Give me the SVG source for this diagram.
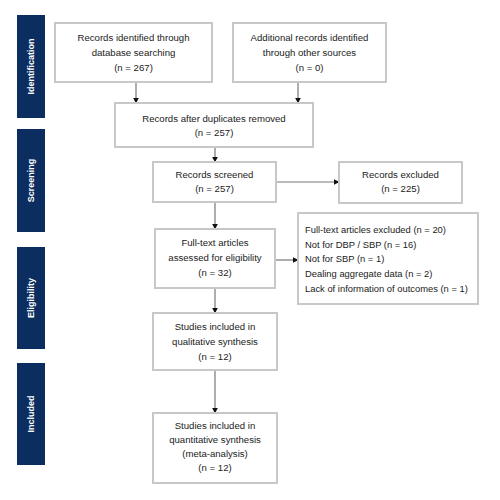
<svg xmlns="http://www.w3.org/2000/svg" width="500" height="500" viewBox="0 0 500 500">
<style>
.box{fill:#fff;stroke:#c8c8c8;stroke-width:2}
.bar{fill:#0b2d5f}
.t{font-family:"Liberation Sans",Arial,sans-serif;font-size:9.6px;fill:#222;text-anchor:middle}
.tl{font-family:"Liberation Sans",Arial,sans-serif;font-size:9.4px;fill:#222}
.side{font-family:"Liberation Sans",Arial,sans-serif;font-size:9px;fill:#fff;text-anchor:middle;font-weight:bold}
.c{stroke:#777;stroke-width:1.2;fill:none;marker-end:url(#ah)}
</style>
<defs>
<marker id="ah" viewBox="0 0 10 10" refX="9" refY="5" markerWidth="6" markerHeight="6" orient="auto" markerUnits="userSpaceOnUse">
<path d="M0,0 L10,5 L0,10 z" fill="#111"/>
</marker>
</defs>
<rect width="500" height="500" fill="#fff"/>
<g id="phases">
<g id="phase-identification"><rect class="bar" x="17" y="15" width="28" height="103"/><text class="side" transform="translate(34,66.5) rotate(-90)">Identification</text></g>
<g id="phase-screening"><rect class="bar" x="17" y="129" width="28" height="103"/><text class="side" transform="translate(34,180.5) rotate(-90)">Screening</text></g>
<g id="phase-eligibility"><rect class="bar" x="17" y="247" width="28" height="102"/><text class="side" transform="translate(34,298) rotate(-90)">Eligibility</text></g>
<g id="phase-included"><rect class="bar" x="17" y="363" width="28" height="102"/><text class="side" transform="translate(34,414) rotate(-90)">Included</text></g>
</g>
<g id="connectors">
<line class="c" x1="136" y1="82" x2="136" y2="103"/>
<line class="c" x1="298" y1="82" x2="298" y2="103"/>
<line class="c" x1="215" y1="147" x2="215" y2="162"/>
<line class="c" x1="276" y1="182" x2="339" y2="182"/>
<line class="c" x1="215" y1="202" x2="215" y2="229"/>
<line class="c" x1="275" y1="260" x2="298" y2="260"/>
<line class="c" x1="215" y1="288" x2="215" y2="313"/>
<line class="c" x1="215" y1="370" x2="215" y2="413"/>
</g>
<g id="n1"><rect class="box" x="55" y="23" width="157" height="59"/>
<text class="t" x="133.5" y="41">Records identified through</text>
<text class="t" x="133.5" y="56">database searching</text>
<text class="t" x="133.5" y="71">(n = 267)</text></g>
<g id="n2"><rect class="box" x="233" y="23" width="153" height="59"/>
<text class="t" x="309.5" y="41">Additional records identified</text>
<text class="t" x="309.5" y="56">through other sources</text>
<text class="t" x="309.5" y="71">(n = 0)</text></g>
<g id="n3"><rect class="box" x="115" y="103" width="198" height="44"/>
<text class="t" x="214" y="122">Records after duplicates removed</text>
<text class="t" x="214" y="136">(n = 257)</text></g>
<g id="n4"><rect class="box" x="153" y="162" width="123" height="40"/>
<text class="t" x="214.5" y="178">Records screened</text>
<text class="t" x="214.5" y="192">(n = 257)</text></g>
<g id="n5"><rect class="box" x="339" y="162" width="123" height="41"/>
<text class="t" x="400.5" y="178">Records excluded</text>
<text class="t" x="400.5" y="192">(n = 225)</text></g>
<g id="n6"><rect class="box" x="155" y="229" width="120" height="59"/>
<text class="t" x="215" y="246">Full-text articles</text>
<text class="t" x="215" y="261">assessed for eligibility</text>
<text class="t" x="215" y="276">(n = 32)</text></g>
<g id="n7"><rect class="box" x="298" y="213" width="180" height="91"/>
<text class="tl" x="305" y="233">Full-text articles excluded (n = 20)</text>
<text class="tl" x="305" y="248">Not for DBP / SBP (n = 16)</text>
<text class="tl" x="305" y="262">Not for SBP (n = 1)</text>
<text class="tl" x="305" y="277">Dealing aggregate data (n = 2)</text>
<text class="tl" x="305" y="292">Lack of information of outcomes (n = 1)</text></g>
<g id="n8"><rect class="box" x="153" y="313" width="124" height="57"/>
<text class="t" x="215" y="330">Studies included in</text>
<text class="t" x="215" y="345">qualitative synthesis</text>
<text class="t" x="215" y="360">(n = 12)</text></g>
<g id="n9"><rect class="box" x="153" y="413" width="124" height="70"/>
<text class="t" x="215" y="429">Studies included in</text>
<text class="t" x="215" y="443">quantitative synthesis</text>
<text class="t" x="215" y="457">(meta-analysis)</text>
<text class="t" x="215" y="471">(n = 12)</text></g>
</svg>
